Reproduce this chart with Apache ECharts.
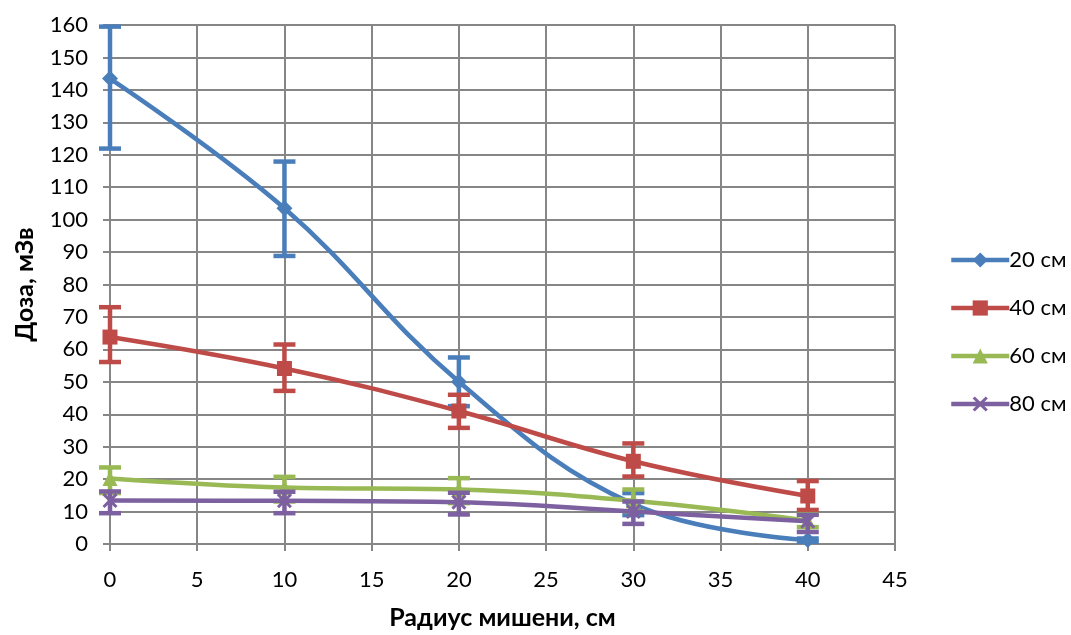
<!DOCTYPE html>
<html><head><meta charset="utf-8">
<script src="https://cdn.jsdelivr.net/npm/echarts@6/dist/echarts.min.js"></script>
<style>html,body{margin:0;padding:0;background:#fff}#c{width:1071px;height:635px}</style>
</head><body><div id="c"></div>
<script>
const radius = [0, 10, 20, 30, 40];
const names = ['20 см', '40 см', '60 см', '80 см'];
const s20 = [143.5, 103.5, 50.0, 12.3, 1.2];
const s40 = [63.8, 54.1, 41.0, 25.5, 14.8];
const s60 = [20.2, 17.4, 16.8, 13.3, 7.2];
const s80 = [13.4, 13.3, 12.9, 10.0, 7.0];
const e20p = [16.0, 14.4, 7.5, 3.4, 0.5];
const e20m = [21.6, 14.7, 7.5, 3.4, 0.5];
const e40p = [9.2, 7.4, 5.0, 5.5, 4.6];
const e40m = [7.7, 6.9, 5.2, 4.7, 4.3];
const e60p = [3.4, 3.3, 3.5, 3.5, 2.0];
const e60m = [4.5, 4.3, 4.2, 3.2, 2.0];
const e80p = [2.8, 2.8, 2.9, 3.1, 2.0];
const e80m = [3.9, 3.8, 3.8, 3.8, 3.3];
const yTicks = {min: 0, max: 160, step: 10};
const xTicks = {min: 0, max: 45, step: 5};

const colors = ['#4A7EBB', '#BE4B48', '#98B954', '#7D60A0'];
const symbols = ['diamond', 'rect', 'triangle',
  'path://M0,1.4 L1.4,0 L5,3.6 L8.6,0 L10,1.4 L6.4,5 L10,8.6 L8.6,10 L5,6.4 L1.4,10 L0,8.6 L3.6,5 Z'];
const symSizes = [16, 15, 15, 15];
const vals = [s20, s40, s60, s80];
const ep = [e20p, e40p, e60p, e80p];
const em = [e20m, e40m, e60m, e80m];
const FONT = 'Lato, "Open Sans", sans-serif';

const series = [];
vals.forEach((v, i) => {
  series.push({
    name: names[i], type: 'line', smooth: 0.4,
    data: radius.map((x, k) => [x, v[k]]),
    symbol: symbols[i], symbolSize: symSizes[i],
    lineStyle: {color: colors[i], width: 4.5},
    itemStyle: {color: colors[i]},
    z: 3 + i
  });
  series.push({
    type: 'custom', name: 'err' + i, silent: true, z: 3 + i,
    data: radius.map((x, k) => [x, v[k] - em[i][k], v[k] + ep[i][k]]),
    renderItem: function (params, api) {
      const x = api.value(0);
      const lo = api.coord([x, api.value(1)]);
      const hi = api.coord([x, api.value(2)]);
      const hw = 11;
      const st = {stroke: colors[i], lineWidth: 4.5};
      return {type: 'group', children: [
        {type: 'line', shape: {x1: lo[0], y1: lo[1], x2: hi[0], y2: hi[1]}, style: st},
        {type: 'line', shape: {x1: lo[0] - hw, y1: lo[1], x2: lo[0] + hw, y2: lo[1]}, style: st},
        {type: 'line', shape: {x1: hi[0] - hw, y1: hi[1], x2: hi[0] + hw, y2: hi[1]}, style: st}
      ]};
    }
  });
});

const chart = echarts.init(document.getElementById('c'));
chart.setOption({
  animation: false,
  textStyle: {fontFamily: FONT},
  grid: {left: 110, right: 176, top: 25, bottom: 89},
  legend: {
    data: names, orient: 'vertical', left: 944, top: 244, itemGap: 26,
    itemWidth: 58, itemHeight: 19,
    lineStyle: {width: 4.5},
    textStyle: {fontSize: 22, color: '#000', fontFamily: FONT, padding: [0, 0, 0, -5]}
  },
  xAxis: {
    type: 'value', min: xTicks.min, max: xTicks.max, interval: xTicks.step,
    name: 'Радиус мишени, см', nameLocation: 'middle', nameGap: 61,
    nameTextStyle: {fontSize: 25, fontWeight: 'bold', color: '#000', fontFamily: FONT},
    axisLine: {show: true, lineStyle: {color: '#868686', width: 2}},
    axisTick: {show: true, length: 7, lineStyle: {color: '#868686', width: 2}},
    axisLabel: {fontSize: 22, color: '#000', margin: 25, fontFamily: FONT},
    splitLine: {show: true, lineStyle: {color: '#868686', width: 2}}
  },
  yAxis: {
    type: 'value', min: yTicks.min, max: yTicks.max, interval: yTicks.step,
    name: 'Доза, мЗв', nameLocation: 'middle', nameGap: 73,
    nameTextStyle: {fontSize: 25, fontWeight: 'bold', color: '#000', fontFamily: FONT},
    axisLine: {show: true, lineStyle: {color: '#868686', width: 2}},
    axisTick: {show: true, length: 7, lineStyle: {color: '#868686', width: 2}},
    axisLabel: {fontSize: 22, color: '#000', margin: 22, fontFamily: FONT},
    splitLine: {show: true, lineStyle: {color: '#868686', width: 2}}
  },
  series: series
});
</script></body></html>
